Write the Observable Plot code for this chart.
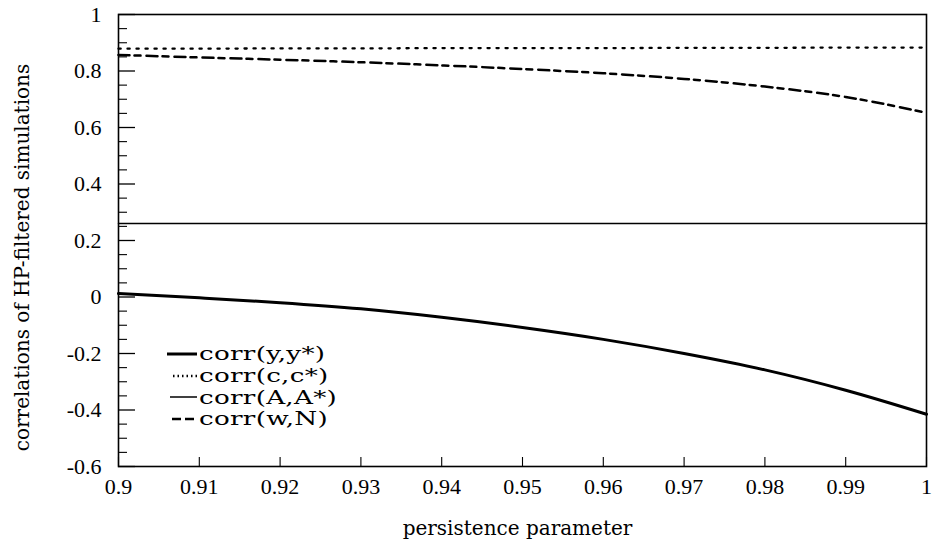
<!DOCTYPE html>
<html><head><meta charset="utf-8">
<script src="https://cdn.jsdelivr.net/npm/d3@7"></script>
<script src="https://cdn.jsdelivr.net/npm/@observablehq/plot@0.6"></script>
<style>
body{margin:0;background:#fff;}
#wrap{position:relative;width:935px;height:548px;}
#wrap svg g[aria-label$="tick label"] text{font-family:"Liberation Serif";font-size:22px;fill:#000;}
#legend{position:absolute;left:165px;top:343px;font-family:"DejaVu Serif";font-size:19px;color:#000;line-height:1;}
.row{display:flex;align-items:center;height:21.7px;white-space:nowrap;}
.row svg{width:34px;height:12px;flex:none;}
.row span{display:inline-block;transform:scaleX(1.38);transform-origin:left center;letter-spacing:0.2px;}
</style></head><body><div id="wrap"><div id="legend"></div></div>
<script>
const persistence = [0.90, 0.91, 0.92, 0.93, 0.94, 0.95, 0.96, 0.97, 0.98, 0.99, 1.00];
const corrYY = [0.012, -0.003, -0.020, -0.042, -0.072, -0.108, -0.150, -0.200, -0.258, -0.330, -0.415];
const corrCC = [0.879, 0.879, 0.880, 0.880, 0.881, 0.881, 0.881, 0.882, 0.882, 0.883, 0.883];
const corrAA = [0.26, 0.26, 0.26, 0.26, 0.26, 0.26, 0.26, 0.26, 0.26, 0.26, 0.26];
const corrWN = [0.857, 0.848, 0.840, 0.831, 0.820, 0.807, 0.792, 0.772, 0.745, 0.708, 0.652];
const seriesNames = ["corr(y,y*)", "corr(c,c*)", "corr(A,A*)", "corr(w,N)"];
const xTicks = [0.90, 0.91, 0.92, 0.93, 0.94, 0.95, 0.96, 0.97, 0.98, 0.99, 1.00];
const xTickLabels = ["0.9", "0.91", "0.92", "0.93", "0.94", "0.95", "0.96", "0.97", "0.98", "0.99", "1"];
const yTicks = [-0.6, -0.4, -0.2, 0, 0.2, 0.4, 0.6, 0.8, 1];
const yTickLabels = ["-0.6", "-0.4", "-0.2", "0", "0.2", "0.4", "0.6", "0.8", "1"];
const yMinorTicks = [-0.55, -0.5, -0.45, -0.35, -0.3, -0.25, -0.15, -0.1, -0.05, 0.05, 0.1, 0.15, 0.25, 0.3, 0.35, 0.45, 0.5, 0.55, 0.65, 0.7, 0.75, 0.85, 0.9, 0.95];
const xAxisTitle = ["persistence parameter"];
const yAxisTitle = ["correlations of HP-filtered simulations"];

const styles = [
  {stroke: "#000", strokeWidth: 3},
  {stroke: "#000", strokeWidth: 2.3, strokeDasharray: "2.2,6.8"},
  {stroke: "#000", strokeWidth: 1.5},
  {stroke: "#000", strokeWidth: 2.5, strokeDasharray: "11,5,6,6"}
];
const values = [corrYY, corrCC, corrAA, corrWN];
const tables = values.map(vals => persistence.map((p, i) => ({p, v: vals[i]})));

const chart = Plot.plot({
  width: 935, height: 548,
  marginLeft: 118, marginRight: 9, marginTop: 14, marginBottom: 82,
  style: {fontFamily: "Liberation Serif", fontSize: "22px", background: "#fff", color: "#000"},
  x: {domain: [0.9, 1]},
  y: {domain: [-0.6, 1]},
  marks: [
    ...tables.map((t, i) => Plot.line(t, {x: "p", y: "v", curve: "monotone-x", ...styles[i]})),
    Plot.axisY(yTicks, {tickSize: 0, tickPadding: 17, tickFormat: d => yTickLabels[yTicks.indexOf(d)], fontSize: 22, label: null}),
    Plot.axisY(yTicks, {tickSize: -17, tickFormat: () => "", label: null, strokeWidth: 1.3}),
    Plot.axisY(yMinorTicks, {tickSize: -9, tickFormat: () => "", label: null, strokeWidth: 1.1}),
    Plot.axisX(xTicks, {tickSize: 0, tickPadding: 12, tickFormat: d => xTickLabels[xTicks.indexOf(d)], fontSize: 22, label: null}),
    Plot.axisX(xTicks, {tickSize: -9, tickFormat: () => "", label: null, strokeWidth: 1.1}),
    Plot.text(yAxisTitle, {text: d => d, frameAnchor: "left", rotate: -90, dx: -96, dy: 17, lineAnchor: "middle", textAnchor: "middle", fontFamily: "DejaVu Serif", fontSize: 20, fill: "#000"}),
    Plot.text(xAxisTitle, {text: d => d, frameAnchor: "bottom", dx: -5, dy: 62, lineAnchor: "middle", textAnchor: "middle", fontFamily: "DejaVu Serif", fontSize: 20, fill: "#000"}),
    Plot.frame({stroke: "#000", strokeWidth: 1.6})
  ]
});
document.getElementById("wrap").prepend(chart);

const legend = document.getElementById("legend");
const sampleX = [[2, 32], [8, 32], [5, 32], [7, 32]];
seriesNames.forEach((name, i) => {
  const row = document.createElement("div");
  row.className = "row";
  const s = styles[i];
  row.innerHTML = `<svg viewBox="0 0 34 12"><line x1="${sampleX[i][0]}" x2="${sampleX[i][1]}" y1="6" y2="6" stroke="#000" stroke-width="${s.strokeWidth}" ${s.strokeDasharray ? `stroke-dasharray="${i === 3 ? "9,4" : "1.5,3"}"` : ""}/></svg><span>${name}</span>`;
  legend.appendChild(row);
});
</script></body></html>
